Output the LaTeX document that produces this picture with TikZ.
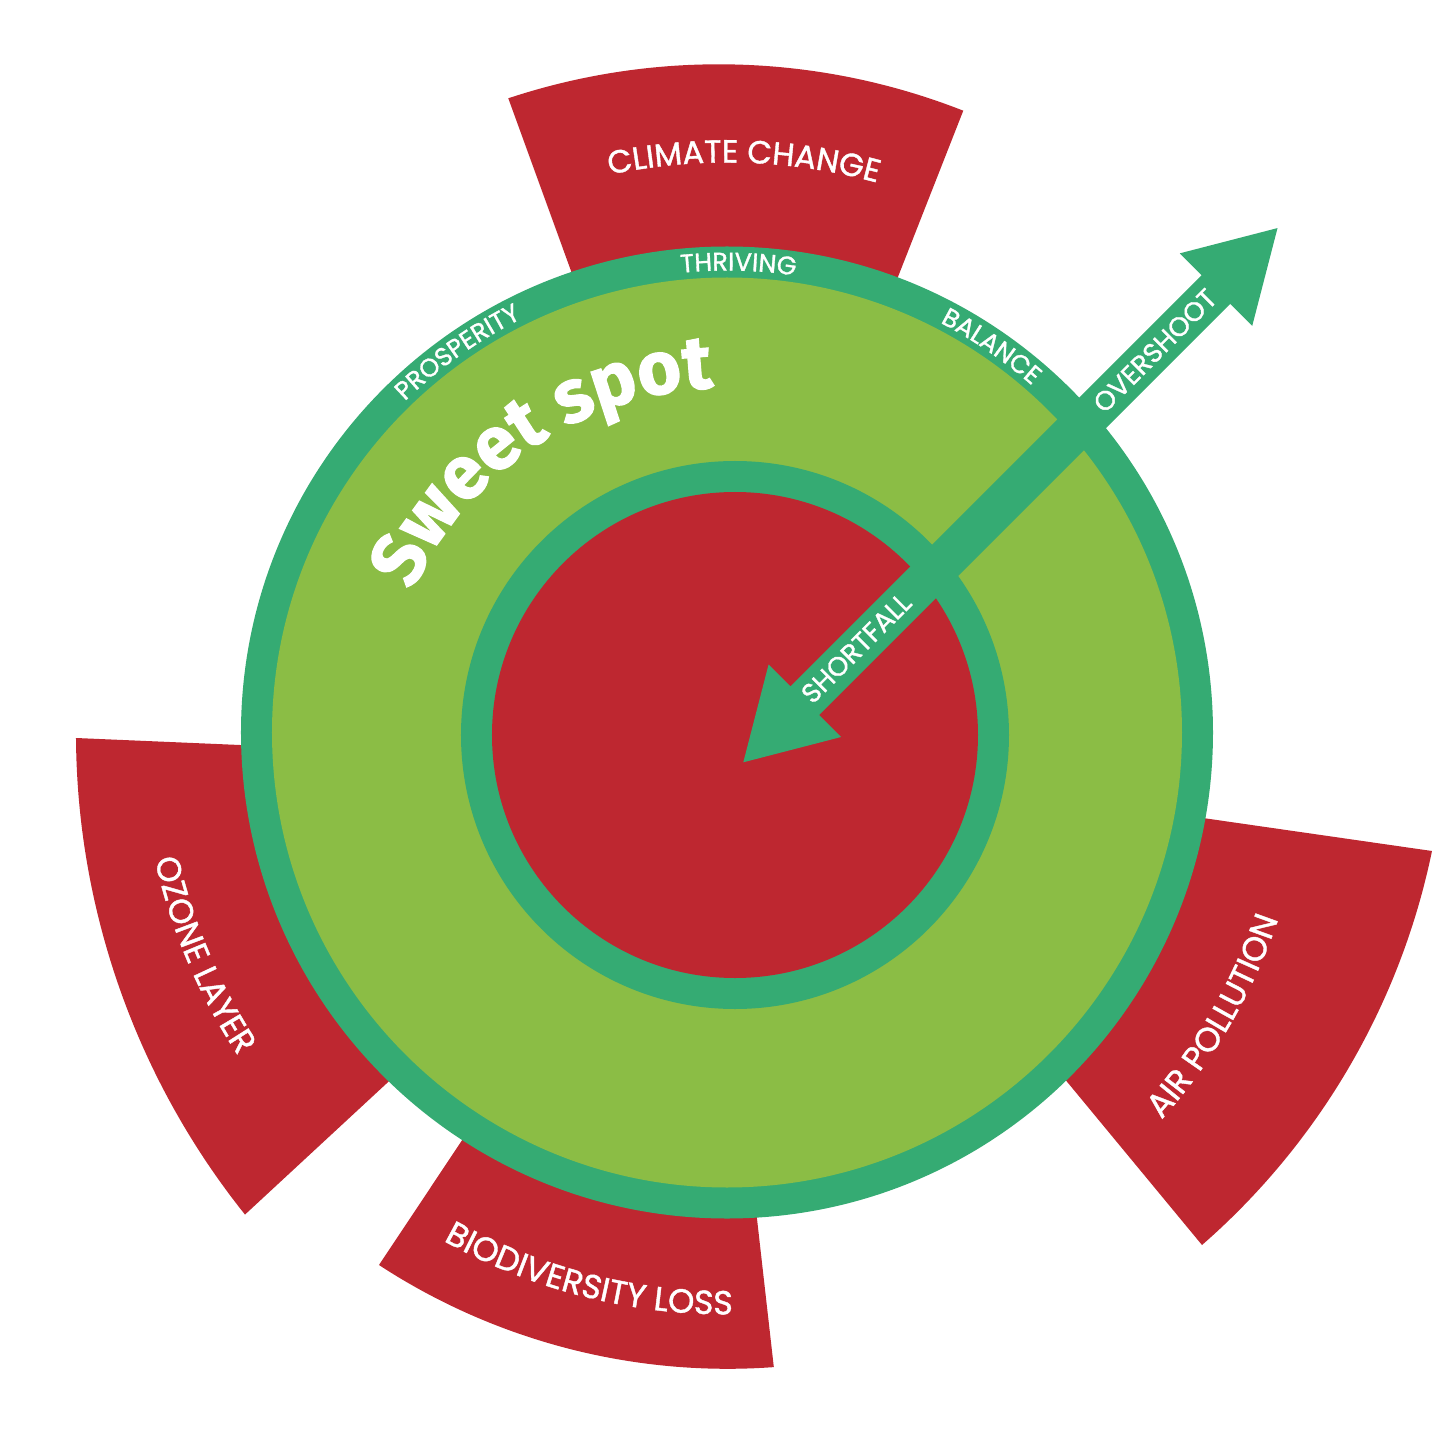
\documentclass[tikz,border=0pt]{standalone}
\usepackage{fontspec}
\usetikzlibrary{decorations.text}
\newfontfamily\labelfont{Poppins}[FakeBold=1.2]
\newfontfamily\sweetfont{Fira Sans}[BoldFeatures={FakeBold=1.6}]
\definecolor{wedgered}{HTML}{BE2730}
\definecolor{leafgreen}{HTML}{8BBD45}
\definecolor{ringgreen}{HTML}{35AB73}
% clockwise arc text (top half): center angle, half span, radius, size, text
\newcommand{\cwarctext}[5]{%
  \path[decorate, decoration={text along path, text align=center, text color=white,
     text={|\labelfont\fontsize{#4}{#4}\selectfont|#5}}]
     ({#1+#2}:#3) arc[start angle={#1+#2}, end angle={#1-#2}, radius=#3];}
% counter-clockwise arc text (bottom half)
\newcommand{\ccwarctext}[5]{%
  \path[decorate, decoration={text along path, text align=center, text color=white,
     text={|\labelfont\fontsize{#4}{#4}\selectfont|#5}}]
     ({#1-#2}:#3) arc[start angle={#1-#2}, end angle={#1+#2}, radius=#3];}
\tikzset{
  arrowlabel/.style={text=white, inner sep=0pt, rotate=45,
     font=\labelfont\fontsize{27}{27}\selectfont},
}
\begin{document}
\begin{tikzpicture}[x=1pt,y=1pt]
\useasboundingbox (-727,-721.5) rectangle (729,732.5);
\coordinate (O) at (0,0);
\coordinate (I) at (8,-2.5);
% boundary wedges
\fill[wedgered] (-93.9,290.8) -- (-218.7,634.2) arc[start angle=108.36, end angle=68.52, radius=668] -- (107.7,294.6) -- cycle;
\fill[wedgered] (-323,-19.5) -- (-651,-5.5) arc[start angle=180.4, end angle=218.65, radius=771.7] -- (-196,-217.2) -- cycle;
\fill[wedgered] (-186,-289.1) -- (-348,-532.5) arc[start angle=236.83, end angle=274.17, radius=637] -- (13.1,-337.2) -- cycle;
\fill[wedgered] (205,-185.9) -- (475,-512.5) arc[start angle=-48.88, end angle=-11.67, radius=715] -- (251,-53.1) -- cycle;
% doughnut
\fill[ringgreen] (O) circle[radius=486];
\fill[leafgreen] (O) circle[radius=455];
\fill[ringgreen] (I) circle[radius=274];
\fill[wedgered] (I) circle[radius=243];
% double arrow
\coordinate (T1) at (16.3,-29.8);
\coordinate (T2) at (550.7,504.2);
\begin{scope}[shift={(T1)}, rotate=45]
\fill[ringgreen] (0,0) -- (87,51.25) -- (87,20.25) -- (668.5,20.25) -- (668.5,51.25) -- (755.5,0)
  -- (668.5,-51.25) -- (668.5,-20.25) -- (87,-20.25) -- (87,-51.25) -- cycle;
\node[arrowlabel] (overshoot) at (582,0) {OVERSHOOT};
\node[arrowlabel] (shortfall) at (160.5,1) {SHORTFALL};
\end{scope}
% curved labels
\cwarctext{88.3}{40}{570}{32}{CLIMATE CHANGE}
\cwarctext{88.6}{30}{462}{25.5}{THRIVING}
\cwarctext{125.3}{30}{462}{25.5}{PROSPERITY}
\cwarctext{55.6}{30}{462}{25.5}{BALANCE}
\ccwarctext{255.7}{30}{582}{33.5}{BIODIVERSITY LOSS}
\ccwarctext{203}{30}{586}{33.5}{OZONE LAYER}
\ccwarctext{-30.2}{30}{582}{33.5}{AIR POLLUTION}
\path[decorate, decoration={text along path, text align=center, text color=white,
     text={|\sweetfont\bfseries\fontsize{75}{75}\selectfont|Sweet spot}}]
     (164:345) arc[start angle=164, end angle=84, radius=345];
\end{tikzpicture}
\end{document}
